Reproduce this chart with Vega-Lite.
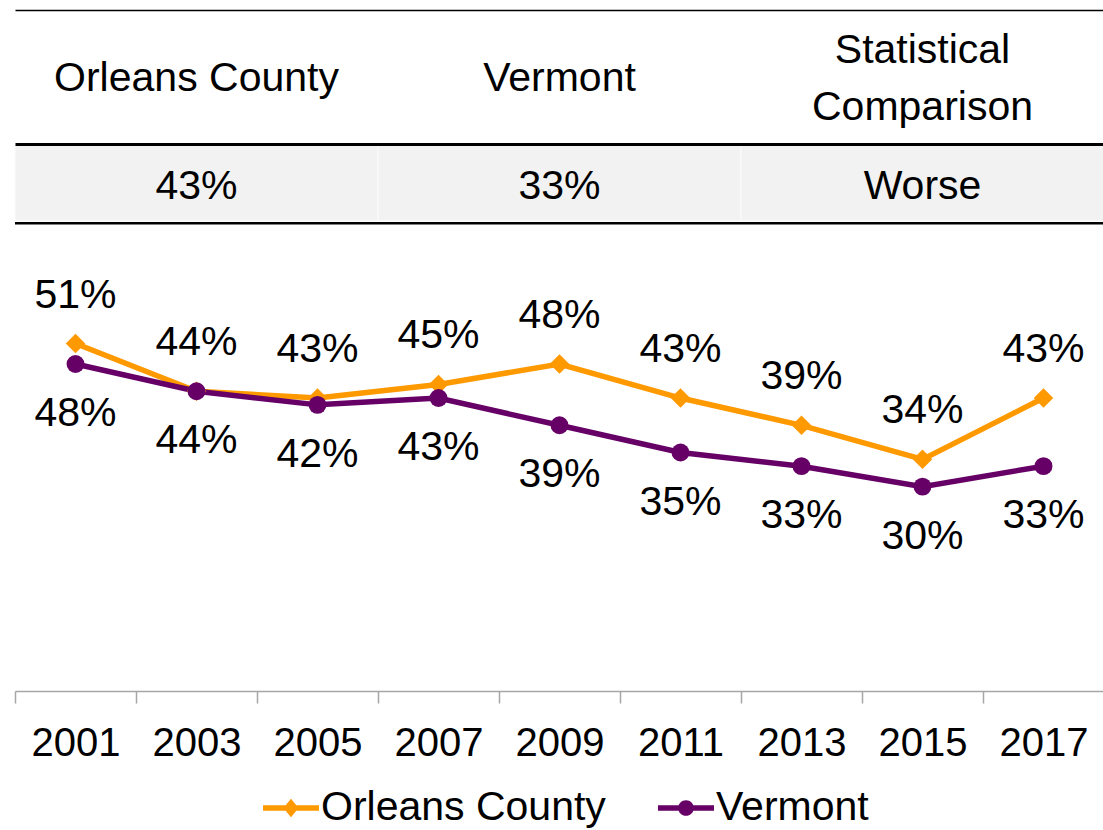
{
  "$schema": "https://vega.github.io/schema/vega-lite/v6.json",
  "padding": {"top": 10, "left": 14, "right": 0, "bottom": 0},
  "background": "white",
  "spacing": 0,
  "config": {"font": "Liberation Sans", "view": {"stroke": null}},
  "datasets": {
    "table": [
      {"col": "Orleans County", "header": "Orleans County", "value": "43%"},
      {"col": "Vermont", "header": "Vermont", "value": "33%"},
      {"col": "Statistical Comparison", "header": "Statistical\nComparison", "value": "Worse"}
    ],
    "trend": [
      {"year": "2001", "series": "Orleans County", "value": 0.51},
      {"year": "2003", "series": "Orleans County", "value": 0.44},
      {"year": "2005", "series": "Orleans County", "value": 0.43},
      {"year": "2007", "series": "Orleans County", "value": 0.45},
      {"year": "2009", "series": "Orleans County", "value": 0.48},
      {"year": "2011", "series": "Orleans County", "value": 0.43},
      {"year": "2013", "series": "Orleans County", "value": 0.39},
      {"year": "2015", "series": "Orleans County", "value": 0.34},
      {"year": "2017", "series": "Orleans County", "value": 0.43},
      {"year": "2001", "series": "Vermont", "value": 0.48},
      {"year": "2003", "series": "Vermont", "value": 0.44},
      {"year": "2005", "series": "Vermont", "value": 0.42},
      {"year": "2007", "series": "Vermont", "value": 0.43},
      {"year": "2009", "series": "Vermont", "value": 0.39},
      {"year": "2011", "series": "Vermont", "value": 0.35},
      {"year": "2013", "series": "Vermont", "value": 0.33},
      {"year": "2015", "series": "Vermont", "value": 0.30},
      {"year": "2017", "series": "Vermont", "value": 0.33}
    ]
  },
  "vconcat": [
    {
      "width": 1089,
      "height": 133,
      "data": {"name": "table"},
      "encoding": {
        "x": {
          "field": "col", "type": "nominal", "sort": null,
          "scale": {"paddingInner": 0, "paddingOuter": 0},
          "axis": {"orient": "top", "title": null, "labels": false, "ticks": false, "domainColor": "black", "domainWidth": 1.5}
        },
        "text": {"field": "header"}
      },
      "layer": [
        {
          "transform": [{"filter": "indexof(datum.header, '\\n') < 0"}],
          "mark": {"type": "text", "fontSize": 41, "color": "black", "baseline": "middle", "dy": 2}
        },
        {
          "transform": [{"filter": "indexof(datum.header, '\\n') >= 0"}],
          "mark": {"type": "text", "fontSize": 41, "lineBreak": "\n", "lineHeight": 57, "color": "black", "baseline": "middle", "dy": -26}
        }
      ]
    },
    {
      "width": 1089,
      "height": 77,
      "data": {"name": "table"},
      "encoding": {
        "x": {
          "field": "col", "type": "nominal", "sort": null,
          "scale": {"paddingInner": 0, "paddingOuter": 0},
          "axis": {"orient": "top", "title": null, "labels": false, "ticks": false, "domainColor": "black", "domainWidth": 3}
        }
      },
      "layer": [
        {"mark": {"type": "rect", "fill": "#f2f2f2", "stroke": "#fbfbfb", "strokeWidth": 1}},
        {
          "mark": {"type": "text", "fontSize": 41, "color": "black", "baseline": "middle", "dy": 4},
          "encoding": {"text": {"field": "value"}}
        }
      ]
    },
    {
      "width": 1089,
      "height": 2.5,
      "data": {"name": "table"},
      "mark": {"type": "rect", "fill": "black"},
      "encoding": {
        "x": {
          "field": "col", "type": "nominal", "sort": null,
          "scale": {"paddingInner": 0, "paddingOuter": 0},
          "axis": null
        }
      }
    },
    {
      "width": 1089,
      "height": 466,
      "data": {"name": "trend"},
      "encoding": {
        "x": {
          "field": "year", "type": "ordinal",
          "scale": {"paddingInner": 0, "paddingOuter": 0},
          "axis": {"title": null, "tickBand": "extent", "domainColor": "#a6a6a6", "domainWidth": 1.5, "tickColor": "#a6a6a6", "tickWidth": 1.5, "tickSize": 12, "labelFontSize": 40, "labelColor": "black", "labelPadding": 20, "labelAngle": 0}
        },
        "y": {
          "field": "value", "type": "quantitative",
          "scale": {"domain": [0, 0.684], "nice": false, "zero": false},
          "axis": null
        },
        "color": {
          "field": "series", "type": "nominal",
          "scale": {"domain": ["Orleans County", "Vermont"], "range": ["#ff9900", "#660066"]},
          "legend": {
            "orient": "none", "legendX": 248, "legendY": 770, "direction": "horizontal",
            "title": null, "labelFontSize": 41, "labelColor": "black", "labelLimit": 0, "symbolSize": 3136,
            "labelOffset": 2, "columnPadding": 52,
            "encode": {
              "symbols": {
                "update": {
                  "shape": {"signal": "datum.value === 'Orleans County' ? 'M-1,-0.1L1,-0.1L1,0.1L-1,0.1Z M0,-0.33L0.27,0L0,0.33L-0.27,0Z' : 'M-1,-0.1L1,-0.1L1,0.1L-1,0.1Z M-0.28,0A0.28,0.28 0 1,1 0.28,0A0.28,0.28 0 1,1 -0.28,0Z'"},
                  "fill": {"scale": "color", "field": "value"},
                  "stroke": {"value": "transparent"},
                  "strokeWidth": {"value": 0},
                  "opacity": {"value": 1}
                }
              }
            }
          }
        }
      },
      "layer": [
        {"mark": {"type": "line", "strokeWidth": 5.5}},
        {
          "transform": [{"filter": "datum.series === 'Orleans County'"}],
          "mark": {"type": "point", "filled": true, "size": 380, "opacity": 1, "shape": "diamond"}
        },
        {
          "transform": [{"filter": "datum.series === 'Vermont'"}],
          "mark": {"type": "point", "filled": true, "size": 320, "opacity": 1, "shape": "circle"}
        },
        {
          "transform": [{"filter": "datum.series === 'Orleans County'"}],
          "mark": {"type": "text", "fontSize": 41, "color": "black", "baseline": "middle", "dy": -48},
          "encoding": {"text": {"field": "value", "type": "quantitative", "format": ".0%"}, "color": {"value": "black"}}
        },
        {
          "transform": [{"filter": "datum.series === 'Vermont'"}],
          "mark": {"type": "text", "fontSize": 41, "color": "black", "baseline": "middle", "dy": 50},
          "encoding": {"text": {"field": "value", "type": "quantitative", "format": ".0%"}, "color": {"value": "black"}}
        }
      ]
    }
  ]
}
